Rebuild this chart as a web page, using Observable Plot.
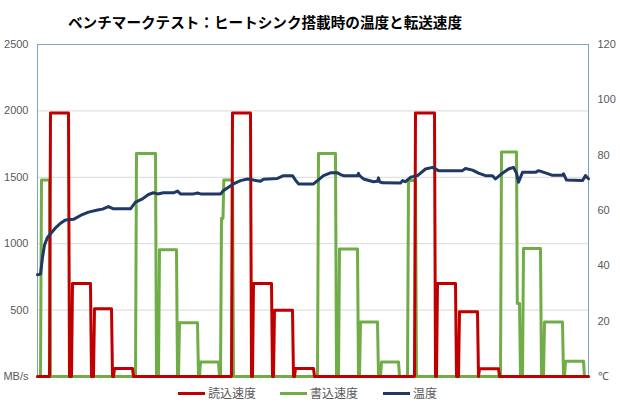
<!DOCTYPE html>
<html><head><meta charset="utf-8">
<script src="https://cdn.jsdelivr.net/npm/d3@7"></script>
<script src="https://cdn.jsdelivr.net/npm/@observablehq/plot@0.6"></script>
<style>
body{margin:0;background:#fff;}
#wrap{width:620px;height:405px;position:relative;overflow:hidden;background:#fff}
#title{height:34px;box-sizing:border-box;padding-top:13px;padding-left:68px;font-family:"Noto Sans CJK JP",sans-serif;font-weight:bold;font-size:14.6px;line-height:18px;color:#000;white-space:nowrap}
#chart svg{display:block}
#legend{position:relative;height:19px;font-family:"Noto Sans CJK JP",sans-serif;font-size:12px;color:#595959}
.item{position:absolute;top:0;height:14px;line-height:14px;white-space:nowrap}
.sw{display:inline-block;width:27px;height:3px;vertical-align:middle;margin-right:3px;position:relative;top:-1px}
</style>
</head><body>
<div id="wrap">
  <div id="title">ベンチマークテスト：ヒートシンク搭載時の温度と転送速度</div>
  <div id="chart"></div>
  <div id="legend"></div>
</div>
<script>
// ---- data (time in sample units, 0..551) ----
const tMax = 551;
const seriesNames = ["読込速度", "書込速度", "温度"];
const seriesColors = ["#C00000", "#70AD47", "#1F3864"];

// read speed (MB/s) blocks
const readStart = [12, 34, 56, 76, 194, 215, 236, 257, 377, 399, 421, 441];
const readEnd   = [31, 53, 74, 95, 213, 234, 255, 276, 397, 418, 440, 461];
const readMBs   = [1985, 700, 510, 60, 1985, 700, 498, 60, 1985, 700, 488, 58];

// write speed (MB/s) blocks
const writeStart = [3, 98, 121, 141, 162, 183, 185.5, 280, 301, 322, 343, 370, 463, 479, 485, 506, 527];
const writeEnd   = [12, 118, 139, 160, 181, 185.5, 195, 298, 320, 340, 361, 378, 479, 482, 503, 525, 546];
const writeMBs   = [1480, 1680, 955, 405, 110, 1190, 1480, 1680, 960, 410, 110, 1475, 1690, 550, 963, 410, 115];

// temperature (°C)
const tempT = [0,3,5,7,10,13,18,23,28,36,43,51,60,65,71,76,93,98,105,111,116,120,126,136,140,143,156,160,163,183,
  186,191,196,203,210,216,223,226,240,246,255,258,261,276,280,286,293,300,303,306,320,321,322,326,336,340,341,342,345,
  363,365,368,373,380,388,395,401,425,428,435,441,448,455,458,465,471,476,479,481,485,498,501,508,515,525,526,529,545,548,551];
const tempC = [36.8,37.0,43,47.5,50.3,51.6,53.7,55.4,56.6,56.8,58.2,59.4,60.2,60.5,61.4,60.6,60.6,63.0,64.2,65.8,66.4,66.0,66.4,66.4,67.0,66.0,66.0,66.3,66.0,66.0,
  67.2,68.4,69.6,70.8,71.4,71.0,70.6,71.3,71.6,72.6,72.6,71.0,69.6,69.6,70.8,72.6,73.6,73.6,73.0,72.6,72.6,73.4,72.6,71.4,70.4,70.6,71.8,70.4,70.0,
  69.9,70.8,70.4,72.0,72.6,75.0,75.6,74.4,74.4,75.2,74.6,73.5,72.6,72.6,71.4,73.5,75.0,75.6,73.5,70.2,73.8,73.8,74.4,73.6,72.7,72.7,73.3,71.0,70.8,72.6,71.5];

// axes
const mbTicks = [0, 500, 1000, 1500, 2000, 2500];
const gridMB = [500, 1000, 1500, 2000];
const tempTicks = [0, 20, 40, 60, 80, 100, 120];
const mbMax = 2500, tempMax = 120;

// ---- build step series ----
function stepPoints(starts, ends, values) {
  const pts = [{t: 0, v: 0}];
  let prevEnd = null;
  for (let i = 0; i < starts.length; i++) {
    const s = starts[i], e = ends[i], v = values[i];
    if (prevEnd !== null && s === prevEnd) {
      pts.push({t: s + 0.8, v});
    } else {
      if (prevEnd !== null) pts.push({t: prevEnd + 1, v: 0});
      pts.push({t: s, v: 0});
      pts.push({t: s + 1, v});
    }
    pts.push({t: e, v});
    prevEnd = e;
  }
  pts.push({t: prevEnd + 1, v: 0}, {t: tMax, v: 0});
  return pts;
}
const readPts = stepPoints(readStart, readEnd, readMBs);
const writePts = stepPoints(writeStart, writeEnd, writeMBs);
const tempPts = tempT.map((t, i) => ({t, c: tempC[i]}));
const c2mb = c => c * mbMax / tempMax;

const chart = Plot.plot({
  width: 620, height: 352,
  marginTop: 10, marginBottom: 10, marginLeft: 37, marginRight: 32,
  x: {domain: [0, tMax], axis: null},
  y: {domain: [0, mbMax], axis: null, label: null},
  style: {fontFamily: "'Liberation Sans', Arial, sans-serif", fontSize: "11px", color: "#595959", background: "#fff"},
  marks: [
    Plot.ruleY(gridMB, {stroke: "#D9D9D9", strokeWidth: 1}),
    Plot.frame({stroke: "#7BA3C8", strokeWidth: 1}),
    Plot.axisY(mbTicks, {anchor: "left", tickSize: 0, tickPadding: 9, label: null,
      tickFormat: d => d === 0 ? "MB/s" : String(d)}),
    Plot.axisY(tempTicks.map(c2mb), {anchor: "right", tickSize: 0, tickPadding: 9, label: null,
      tickFormat: d => { const c = Math.round(d * tempMax / mbMax); return c === 0 ? "℃" : String(c); }}),
    Plot.line(writePts, {x: "t", y: "v", stroke: seriesColors[1], strokeWidth: 3}),
    Plot.line(readPts, {x: "t", y: "v", stroke: seriesColors[0], strokeWidth: 3}),
    Plot.line(tempPts, {x: "t", y: d => c2mb(d.c), stroke: seriesColors[2], strokeWidth: 3})
  ]
});
document.getElementById("chart").appendChild(chart);

// legend
const legendX = [178, 280, 383];
const lg = document.getElementById("legend");
seriesNames.forEach((name, i) => {
  const it = document.createElement("div");
  it.className = "item";
  it.style.left = legendX[i] + "px";
  it.innerHTML = `<span class="sw" style="background:${seriesColors[i]}"></span>${name}`;
  lg.appendChild(it);
});
</script>
</body></html>
